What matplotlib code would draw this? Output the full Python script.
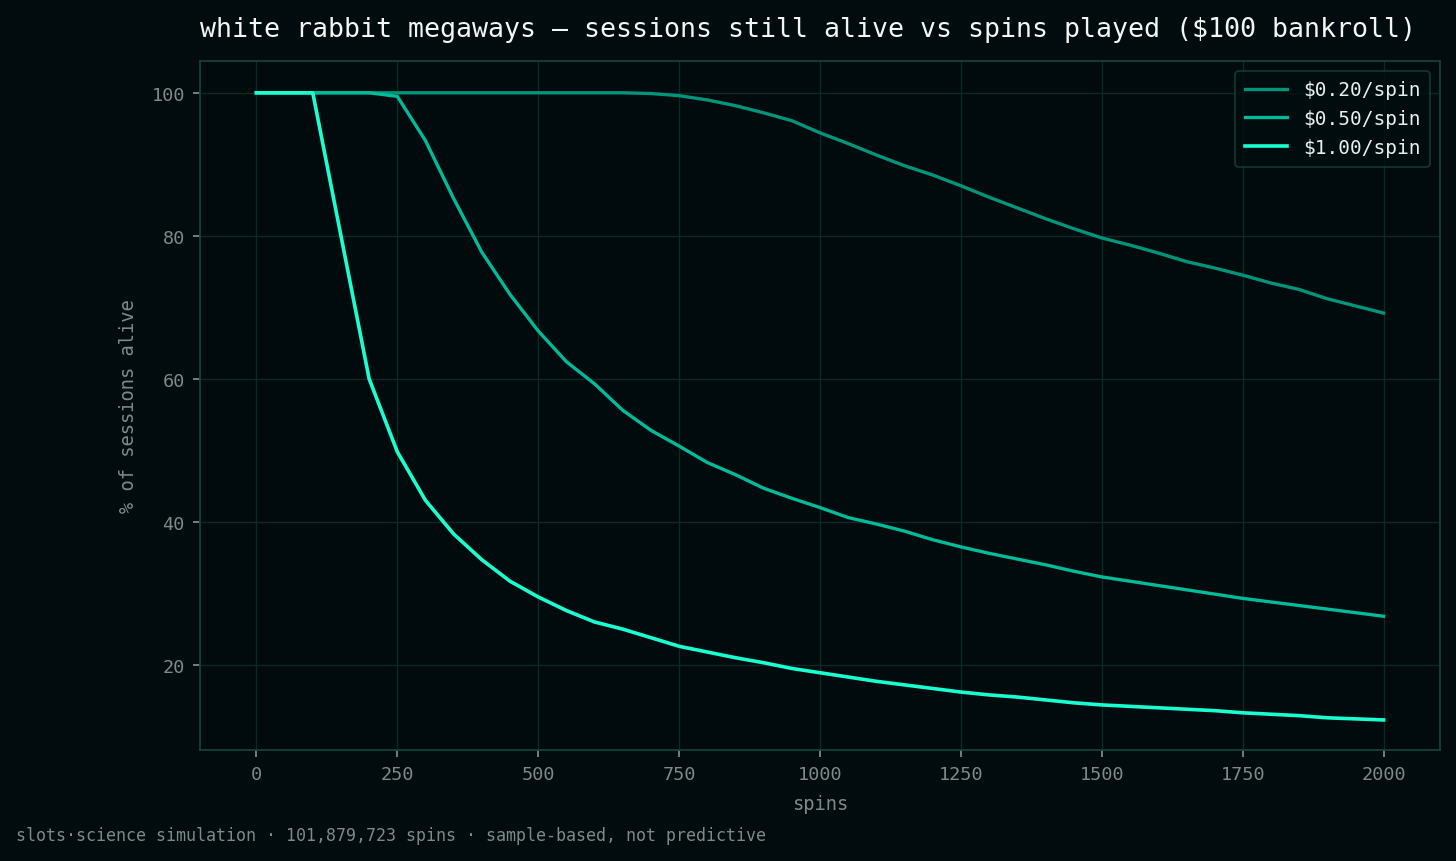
import numpy as np, matplotlib
matplotlib.use("Agg")
import matplotlib.pyplot as plt

spins = list(range(0, 2001, 50))

alive_020 = [100, 100, 100, 100, 100, 100, 100, 100, 100, 100, 100, 100, 100, 100,
             99.9, 99.6, 99.0, 98.2, 97.2, 96.1, 94.4, 92.9, 91.3, 89.8, 88.5, 87.0,
             85.4, 83.9, 82.4, 81.0, 79.7, 78.7, 77.6, 76.4, 75.5, 74.5, 73.4, 72.5,
             71.2, 70.2, 69.2]
alive_050 = [100, 100, 100, 100, 100, 99.5, 93.3, 85.2, 77.7, 71.8, 66.7, 62.4,
             59.3, 55.6, 52.8, 50.6, 48.3, 46.6, 44.7, 43.3, 42.0, 40.6, 39.7, 38.7,
             37.5, 36.5, 35.6, 34.8, 34.0, 33.1, 32.3, 31.7, 31.1, 30.5, 29.9, 29.3,
             28.8, 28.3, 27.8, 27.3, 26.8]
alive_100 = [100, 100, 100, 80.0, 60.0, 49.8, 43.0, 38.3, 34.7, 31.7, 29.5, 27.6,
             26.0, 25.0, 23.8, 22.6, 21.8, 21.0, 20.3, 19.5, 18.9, 18.3, 17.7, 17.2,
             16.7, 16.2, 15.8, 15.5, 15.1, 14.7, 14.4, 14.2, 14.0, 13.8, 13.6, 13.3,
             13.1, 12.9, 12.6, 12.45, 12.3]

labels = ["$0.20/spin", "$0.50/spin", "$1.00/spin"]
series = [alive_020, alive_050, alive_100]
colors = ["#00957a", "#00bb99", "#19ffd1"]
widths = [2.4, 2.4, 2.6]

bg = "#020b0e"
grid_c = "#0c2a25"
spine_c = "#15403a"
txt_c = "#7d8a88"

plt.rcParams["font.family"] = ["DejaVu Sans Mono"]
fig = plt.figure(figsize=(14.56, 8.62), dpi=100, facecolor=bg)
ax = fig.add_axes([0.1374, 0.1288, 0.8516, 0.7993], facecolor="#010a0c")

for y, lab, c, w in zip(series, labels, colors, widths):
    ax.plot(spins, y, color=c, lw=w, label=lab)

ax.set_xlim(-100, 2100)
ax.set_ylim(8.1, 104.45)
ax.grid(True, color=grid_c, lw=1)
ax.set_axisbelow(True)
for s in ax.spines.values():
    s.set_color(spine_c); s.set_linewidth(1.3)
ax.tick_params(colors=txt_c, labelsize=13.3, length=5, width=1.3, pad=6)
ax.set_xticks([0, 250, 500, 750, 1000, 1250, 1500, 1750, 2000])
ax.set_yticks([20, 40, 60, 80, 100])
ax.set_xlabel("spins", color=txt_c, fontsize=13.5, labelpad=8)
ax.set_ylabel("% of sessions alive", color=txt_c, fontsize=13.5, labelpad=10)
ax.set_title("white rabbit megaways — sessions still alive vs spins played ($100 bankroll)",
             color="#f2f6f5", fontsize=19.15, loc="left", pad=18)

leg = ax.legend(loc="upper right", fontsize=14.0, frameon=True, facecolor="#020d0f",
                edgecolor=spine_c, labelcolor="#e8efee", handlelength=2.2, borderpad=0.5)
leg.get_frame().set_linewidth(1.3)

fig.text(0.011, 0.030, "slots·science simulation · 101,879,723 spins · sample-based, not predictive",
         color=txt_c, fontsize=12, ha="left", va="center")

fig.savefig("out.png", dpi=100, facecolor=bg)
